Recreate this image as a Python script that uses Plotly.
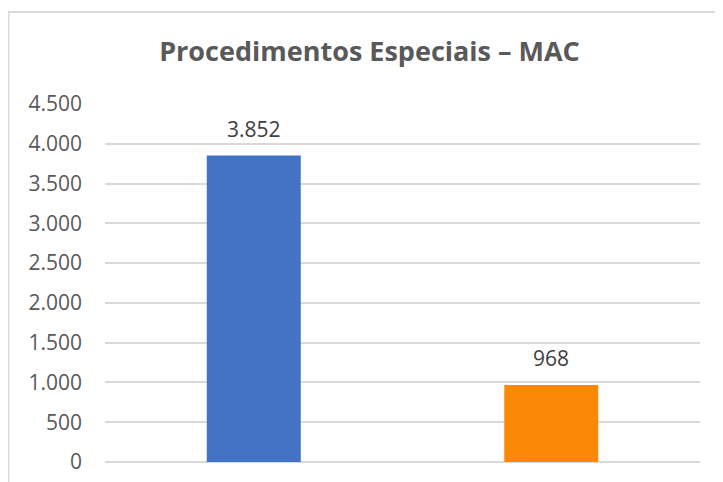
import plotly.graph_objects as go

categories = ["Série 1", "Série 2"]
values = [3852, 968]
bar_colors = ["#4472C4", "#FB8907"]
tick_vals = [0, 500, 1000, 1500, 2000, 2500, 3000, 3500, 4000, 4500]
title_text = "Procedimentos Especiais – MAC"

W, H = 723, 482
ml, mr, mt, mb = 97, 31, 96, 28
pw = W - ml - mr
ph = H - mt - mb

def px_to_paper_x(px):
    return (px - ml) / pw

def px_to_paper_y(py):
    return (H - mb - py) / ph

fig = go.Figure()
fig.add_trace(go.Bar(
    x=categories, y=values, marker=dict(color=bar_colors, line=dict(width=0)),
    width=0.316, hoverinfo="skip",
))

for c, v in zip(categories, values):
    fig.add_annotation(
        x=c, y=v, xref="x", yref="y", text=f"{v:,}".replace(",", "."),
        showarrow=False, yanchor="bottom", yshift=11,
        font=dict(family="Open Sans", size=21, color="#404040"),
    )

# outer chart frame (top and left edges visible)
frame_color = "#D9D9D9"
fig.add_shape(type="line", xref="paper", yref="paper",
              x0=px_to_paper_x(0), x1=px_to_paper_x(W + 5),
              y0=px_to_paper_y(4), y1=px_to_paper_y(4),
              line=dict(color=frame_color, width=2))
fig.add_shape(type="line", xref="paper", yref="paper",
              x0=px_to_paper_x(0.5), x1=px_to_paper_x(0.5),
              y0=px_to_paper_y(4), y1=px_to_paper_y(H + 5),
              line=dict(color=frame_color, width=2))

fig.update_layout(
    width=W, height=H,
    margin=dict(l=ml, r=mr, t=mt, b=mb, autoexpand=False),
    paper_bgcolor="white", plot_bgcolor="white",
    separators=",.",
    showlegend=False,
    bargap=0.684,
    title=dict(text=f"<b>{title_text}</b>", x=361.5 / W, xanchor="center",
               y=1 - 44 / H, yanchor="middle",
               font=dict(family="Open Sans", size=27, color="#595959")),
    xaxis=dict(showticklabels=False, showgrid=False, zeroline=False, showline=False),
    yaxis=dict(range=[0, 4500], tickvals=tick_vals, tickformat=",d",
               showgrid=True, gridcolor="#D9D9D9", gridwidth=1.5,
               zeroline=True, zerolinecolor="#D9D9D9", zerolinewidth=1.5,
               showline=False, ticks="", ticklabelstandoff=22,
               tickfont=dict(family="Open Sans", size=21, color="#595959")),
)

fig.write_html("out.html")
